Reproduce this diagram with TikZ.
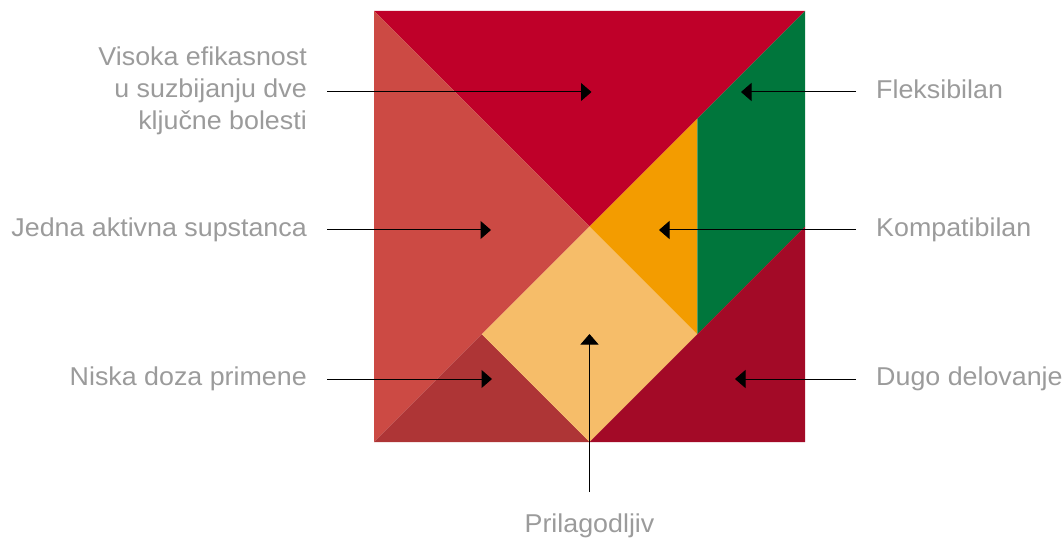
\documentclass[tikz,border=0pt]{standalone}
\usepackage{fontspec}
\setmainfont{Liberation Sans}[FakeStretch=1.04]
\usetikzlibrary{arrows.meta}
\definecolor{cTop}{RGB}{191,0,41}
\definecolor{cLeft}{RGB}{204,74,68}
\definecolor{cSmallBL}{RGB}{174,53,54}
\definecolor{cSquare}{RGB}{246,189,105}
\definecolor{cOrange}{RGB}{243,156,0}
\definecolor{cGreen}{RGB}{0,118,60}
\definecolor{cMedium}{RGB}{163,10,39}
\definecolor{txtgray}{RGB}{155,155,155}
\tikzset{
  piece/.style={draw=none},
  lbl/.style={text=txtgray, inner sep=0pt, font=\fontsize{25.8}{32}\selectfont},
  arr/.style={draw=black, line width=1pt, -{Triangle[length=10.5pt,width=18pt]}}
}
\begin{document}
\begin{tikzpicture}[x=1pt,y=-1pt]
\useasboundingbox (0,0) rectangle (1063,540);
% tangram pieces
\fill[piece, cTop] (374,11) -- (805,11) -- (589.5,226.5) -- cycle;
\fill[piece, cLeft] (374,11) -- (589.5,226.5) -- (374,442) -- cycle;
\fill[piece, cSmallBL] (374,442) -- (481.75,334.25) -- (589.5,442) -- cycle;
\fill[piece, cSquare] (589.5,226.5) -- (697.25,334.25) -- (589.5,442) -- (481.75,334.25) -- cycle;
\fill[piece, cOrange] (589.5,226.5) -- (697.25,118.75) -- (697.25,334.25) -- cycle;
\fill[piece, cGreen] (697.25,118.75) -- (805,11) -- (805,226.5) -- (697.25,334.25) -- cycle;
\fill[piece, cMedium] (805,226.5) -- (805,442) -- (589.5,442) -- cycle;
% labels
\node[lbl, align=right, anchor=east] (visoka) at (307,91) {Visoka efikasnost\\u suzbijanju dve\\ključne bolesti};
\node[lbl, anchor=base east] (jedna) at (307,236.5) {Jedna aktivna supstanca};
\node[lbl, anchor=base east] (niska) at (307,385.5) {Niska doza primene};
\node[lbl, anchor=base west] (fleks) at (876,98.5) {Fleksibilan};
\node[lbl, anchor=base west] (kompat) at (876,236.5) {Kompatibilan};
\node[lbl, anchor=base west] (dugo) at (876,385.5) {Dugo delovanje};
\node[lbl, anchor=base] (prilag) at (589.5,532) {Prilagodljiv};
% connector endpoints
\coordinate (s1) at (327,92);   \coordinate (t1) at (591.5,92);
\coordinate (s2) at (327,230);  \coordinate (t2) at (491,230);
\coordinate (s3) at (327,379);  \coordinate (t3) at (492,379);
\coordinate (s4) at (856,92);   \coordinate (t4) at (741,92);
\coordinate (s5) at (856,230);  \coordinate (t5) at (659,230);
\coordinate (s6) at (856,379);  \coordinate (t6) at (735,379);
\coordinate (s7) at (589.5,492); \coordinate (t7) at (589.5,334);
\draw[arr] (s1) -- (t1);
\draw[arr] (s2) -- (t2);
\draw[arr] (s3) -- (t3);
\draw[arr] (s4) -- (t4);
\draw[arr] (s5) -- (t5);
\draw[arr] (s6) -- (t6);
\draw[arr] (s7) -- (t7);
\end{tikzpicture}
\end{document}
